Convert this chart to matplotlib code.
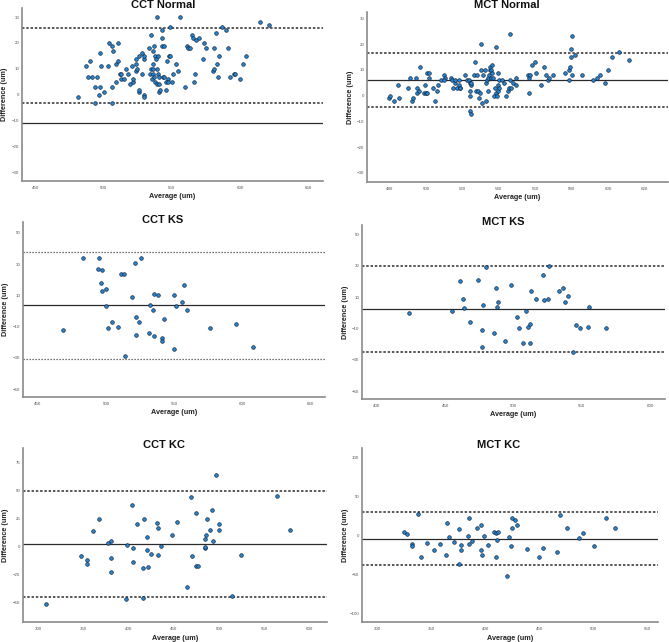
"""Bland-Altman style agreement plots for CCT / MCT in Normal, KS and KC eyes."""
import matplotlib
matplotlib.use("Agg")
import matplotlib.pyplot as plt

W, H = 669, 642

# ---- data: (average, difference) per panel, plus mean / limits of agreement
cct_normal_avg = [
    481.1, 487.0, 488.7, 489.9, 491.1, 493.8, 493.8, 495.0, 496.3, 497.0,
    497.5, 498.0, 499.9, 502.9, 504.1, 505.8, 506.0, 506.0, 506.8, 508.7,
    509.2, 510.2, 510.7, 511.7, 512.7, 512.7, 514.6, 516.3, 517.5, 519.5,
    521.0, 521.7, 521.2, 523.4, 523.4, 523.9, 524.4, 525.6, 526.1, 526.1,
    528.1, 528.3, 529.3, 529.3, 529.3, 529.8, 533.2, 534.2, 534.4, 534.9,
    535.4, 535.9, 535.9, 536.1, 536.1, 536.6, 536.9, 537.6, 537.9, 538.4,
    539.1, 539.1, 539.3, 539.6, 540.1, 540.3, 540.6, 540.8, 541.0, 542.5,
    543.0, 543.0, 543.5, 544.5, 544.5, 545.4, 545.9, 546.4, 546.9, 547.4,
    547.6, 548.6, 548.9, 549.9, 550.8, 552.8, 554.3, 556.0, 559.9, 561.4,
    562.1, 563.3, 564.5, 565.8, 566.5, 567.0, 567.5, 569.9, 572.9, 573.9,
    574.8, 580.2, 580.7, 581.0, 582.2, 583.0, 583.7, 584.4, 586.8, 589.5,
    591.0, 592.4, 595.4, 596.3, 599.8, 602.0, 604.4, 615.0, 621.3]
cct_normal_diff = [
    -1, 11, 7, 13, 7, 3, -3, 7, 0, 3,
    16, 11, 1, 11, 20, 19, 3, -3, 17, 5,
    12, 20, 13, 8, 8, 6, 6, 10, 8, 4,
    11, 5, 6, 14, 12, 9, 10, 1, 2, 15,
    8, 16, 14, 15, 0, -1, 18, 8, 23, 10,
    6, 8, 12, 10, 17, 19, 7, 5, 15, 14,
    30, 4, 10, 15, 8, 4, 7, 1, 2, 25,
    19, 22, 7, 19, 7, 5, 2, 13, 6, 5,
    15, 15, 26, 5, 8, 12, 9, 30, 3, 19,
    18, 18, 23, 22, 5, 8, 21, 22, 14, 20,
    18, 9, 10, 18, 24, 12, 7, 15, 26, 25,
    18, 7, 8, 8, 6, 12, 15, 28, 27]
cct_normal_lines = [-10.9, 25.9, -3.3]  # mean, upper, lower

mct_normal_avg = [
    479.8, 480.4, 482.4, 484.4, 485.0, 489.9, 491.0, 492.3, 493.0, 494.6,
    494.8, 494.8, 496.3, 496.8, 499.2, 498.8, 499.8, 500.7, 500.7, 501.6,
    501.6, 504.0, 505.1, 506.2, 506.3, 508.2, 510.0, 510.6, 510.0, 513.5,
    514.2, 514.6, 515.7, 516.0, 517.0, 518.1, 518.1, 518.4, 518.8, 521.2,
    522.5, 523.4, 524.2, 524.3, 524.3, 524.3, 524.5, 524.7, 524.9, 526.1,
    526.7, 527.5, 528.2, 528.5, 528.9, 529.6, 530.2, 530.2, 530.8, 531.5,
    532.3, 532.9, 533.2, 533.6, 533.8, 534.0, 534.5, 535.1, 535.4, 535.6,
    535.8, 536.0, 536.5, 536.7, 537.3, 537.8, 538.6, 538.6, 539.1, 539.5,
    539.7, 539.8, 540.2, 540.2, 542.0, 542.6, 544.0, 544.8, 545.7, 546.1,
    546.1, 546.8, 547.7, 549.2, 549.5, 555.9, 556.7, 556.7, 557.0, 558.1,
    559.6, 560.5, 562.9, 564.6, 566.0, 567.1, 567.5, 570.0, 576.4, 578.6,
    578.8, 579.3, 579.5, 579.9, 580.1, 580.4, 581.9, 585.7, 591.6, 594.2,
    595.8, 598.4, 599.9, 602.1, 606.1, 611.6]
mct_normal_diff = [
    -1, 0, -2, 4, -1, 3, 7, -2, -1, 7,
    3, 1, 2, 11, 4, 1, 1, 1, 9, 9,
    7, 3, -2, 2, 4, 6, 8, 7, 6, 7,
    6, 3, 5, 6, 3, 4, 6, 3, 3, 8,
    6, 6, -6, 5, 2, 0, 4, -7, 5, 8,
    13, 2, 8, 2, -1, 1, 20, 10, -3, 8,
    10, 5, -2, 6, 7, 2, 8, 10, 11, 7,
    10, 12, 9, 7, 0, 3, 19, 1, 0, 9,
    4, 2, 6, 3, 6, 5, 0, 2, 3, 24,
    6, 3, 5, 4, 7, 8, 7, 1, 8, 12,
    13, 9, 4, 11, 8, 6, 7, 8, 9, 10,
    6, 11, 15, 18, 8, 23, 16, 8, 6, 7,
    8, 5, 10, 15, 17, 14]
mct_normal_lines = [6.0, 16.5, -4.5]

cct_ks_avg = [
    468.1, 483.3, 494.1, 495.0, 496.0, 497.2, 497.2, 500.2, 500.2, 501.2,
    504.3, 509.0, 511.2, 513.4, 514.1, 519.3, 521.2, 522.2, 522.2, 524.2,
    525.4, 531.3, 532.3, 534.2, 535.2, 535.2, 538.6, 541.1, 541.1, 542.3,
    550.1, 550.1, 551.3, 556.2, 557.0, 559.4, 576.3, 595.4, 608.4]
cct_ks_diff = [
    -12, 34, 27, 34, 18, 26, 13, 14, 3, -11,
    -7, -10, 24, 24, -29, 9, 31, -4, -15, -7,
    34, -14, 4, 1, 11, -16, 10, -17, -19, -5,
    10, -24, 3, 6, 17, 1, -11, -8, -23]
cct_ks_lines = [3.8, 38.1, -30.9]

mct_ks_avg = [
    423.2, 454.9, 461.1, 463.0, 464.0, 467.9, 474.0, 476.7, 476.9, 477.9,
    479.9, 486.0, 486.9, 487.9, 488.9, 494.0, 497.9, 502.8, 503.8, 507.0,
    508.9, 510.9, 512.1, 512.1, 513.1, 516.7, 521.9, 522.1, 525.3, 526.0,
    533.1, 536.0, 537.9, 539.9, 543.8, 546.0, 549.0, 554.3, 555.1, 568.0]
mct_ks_diff = [
    0, 1, 20, 9, 3, -6, 21, -11, -22, 5,
    29, -13, 16, 4, 7, -18, 18, -3, -10, -19,
    1, -9, -7, -19, 14, 9, 24, 8, 9, 30,
    14, 16, 7, 11, -25, -8, -10, -9, 4, -10]
mct_ks_lines = [2.1, 30.0, -25.3]

cct_kc_avg = [
    308.4, 347.6, 354.5, 354.5, 360.7, 367.7, 376.8, 380.5, 380.5, 380.5,
    397.7, 398.4, 404.3, 404.6, 405.4, 409.4, 416.4, 416.4, 417.1, 420.4,
    421.1, 420.7, 425.1, 431.4, 432.1, 432.5, 435.4, 448.2, 453.3, 464.4,
    469.2, 470.3, 474.4, 474.8, 477.0, 484.4, 484.7, 484.7, 485.5, 486.6,
    490.3, 492.5, 493.6, 496.5, 499.5, 499.5, 514.6, 523.9, 564.1, 578.2]
cct_kc_diff = [
    -51.5, -8.3, -11.6, -15.5, 13.7, 24.4, 3.6, 4.8, -10.4, -22.3,
    -46.4, 1.5, 37.5, -13.4, -1.5, 20.5, -19.0, -45.5, 24.4, 8.3,
    -18.5, -3.3, -6.5, 21.4, 16.4, -7.4, 0.6, 10.7, 21.7, -36.3,
    44.3, -8.3, 29.8, -17.6, -17.6, 6.5, -1.5, 0.0, 10.4, 24.7,
    14.6, 32.7, 4.8, 63.7, 20.5, 14.6, -44.3, -7.4, 45.5, 14.9]
cct_kc_lines = [2.4, 50.0, -45.2]

mct_kc_avg = [
    325.0, 328.1, 332.1, 332.1, 338.3, 341.0, 346.3, 352.2, 358.0, 364.2,
    365.1, 366.4, 371.0, 375.6, 375.9, 377.2, 378.1, 384.0, 384.9, 385.2,
    388.0, 392.9, 396.0, 396.0, 396.9, 399.1, 402.2, 408.0, 410.2, 410.5,
    411.4, 412.0, 419.8, 421.9, 424.1, 425.0, 425.0, 427.2, 429.9, 438.9,
    450.0, 454.0, 466.7, 469.1, 475.9, 487.0, 490.7, 500.9, 512.0, 520.1]
mct_kc_diff = [
    4.7, 1.7, -11.1, -13.2, 26.9, -28.2, -10.3, -18.4, -11.5, -25.6,
    15.8, -2.6, -8.5, 7.7, -36.8, -12.8, -18.4, -0.4, 21.8, -11.5,
    -7.3, 9.0, 13.7, -19.2, -25.6, -0.4, -12.4, 4.7, -28.2, 3.0,
    -6.0, 3.8, -52.6, -2.1, -14.1, 21.8, 9.0, 20.1, 13.7, -17.1,
    -28.2, -16.2, -21.4, 25.6, 9.8, -3.4, 2.6, -13.2, 21.8, 9.8]
mct_kc_lines = [-4.3, 29.5, -38.5]

panels = [
    # title, avg, diff, lines, box(l, r, top, bottom), xlim, ylim, xticks, yticks, title xy, ls
    ("CCT Normal", cct_normal_avg, cct_normal_diff, cct_normal_lines,
     (22, 323, 8, 181), (440, 661), (-33.3, 33.5),
     range(450, 651, 50), range(-30, 31, 10), (163, 5), "dash"),
    ("MCT Normal", mct_normal_avg, mct_normal_diff, mct_normal_lines,
     (367, 668, 12, 182), (467.5, 633), (-33.5, 32.5),
     range(480, 621, 20), range(-30, 31, 10), (507, 5), "dash"),
    ("CCT KS", cct_ks_avg, cct_ks_diff, cct_ks_lines,
     (23, 325, 222, 397), (439, 661), (-55, 57),
     range(450, 651, 50), range(-50, 51, 20), (163, 220), "dot"),
    ("MCT KS", mct_ks_avg, mct_ks_diff, mct_ks_lines,
     (362, 665, 225, 399), (389, 611), (-55, 56),
     range(400, 601, 50), range(-50, 51, 20), (503, 222), "dash"),
    ("CCT KC", cct_kc_avg, cct_kc_diff, cct_kc_lines,
     (23, 327, 448, 622), (283.5, 619), (-67.3, 88),
     range(300, 601, 50), range(-50, 76, 25), (164, 445), "dash"),
    ("MCT KC", mct_kc_avg, mct_kc_diff, mct_kc_lines,
     (362, 658, 448, 622), (286, 560), (-111, 112),
     range(300, 551, 50), range(-100, 101, 50), (499, 445), "dash"),
]

_FONT = ["Liberation Sans", "DejaVu Sans"]
_LINE = "#2b2b2b"
_SPINE = "#8a8a8a"
_FILL, _EDGE = "#2389dc", "#14243a"


def main():
    plt.rcParams["font.family"] = _FONT
    fig = plt.figure(figsize=(W / 100, H / 100), dpi=100, facecolor="white")

    for (title, avg, diff, lines, box, xlim, ylim, xt, yt, txy, ls) in panels:
        assert len(avg) == len(diff), title
        l, r, t, b = box
        ax = fig.add_axes([l / W, 1 - b / H, (r - l) / W, (b - t) / H])
        ax.set_xlim(*xlim); ax.set_ylim(*ylim)

        mean, upper, lower = lines
        if ls == "dot":
            dash = dict(color="#444444", lw=0.9, linestyle=(0, (1.0, 1.4)))
        else:
            dash = dict(color=_LINE, lw=1.1, linestyle=(0, (1.6, 1.2)))
        ax.axhline(upper, **dash, zorder=1)
        ax.axhline(lower, **dash, zorder=1)
        ax.axhline(mean, color=_LINE, lw=0.9, zorder=1)

        ax.plot(avg, diff, "o", ms=2.6, mfc=_FILL, mec=_EDGE, mew=0.5,
                linestyle="none", zorder=3)

        for s in ("top", "right"):
            ax.spines[s].set_visible(False)
        for s in ("left", "bottom"):
            ax.spines[s].set_color(_SPINE)
            ax.spines[s].set_linewidth(1.2)
        ax.set_xticks(list(xt)); ax.set_yticks(list(yt))
        ax.tick_params(length=0, labelsize=3.2, colors="#555555")
        ax.tick_params(axis="x", pad=3.5)
        ax.tick_params(axis="y", pad=2)

        ax.set_xlabel("Average (um)", fontsize=5.2, fontweight="bold", color="#222222")
        ax.set_ylabel("Difference (um)", fontsize=5.2, fontweight="bold", color="#222222")
        ax.xaxis.set_label_coords(0.5, -12.5 / (b - t))
        ax.yaxis.set_label_coords(-13.5 / (r - l), 0.5)

        fig.text(txy[0] / W, 1 - txy[1] / H, title, ha="center", va="center",
                 fontsize=8, fontweight="bold", color="#111111")

    fig.savefig("out.png", dpi=100, facecolor="white")
    plt.close(fig)


if __name__ == "__main__":
    main()
